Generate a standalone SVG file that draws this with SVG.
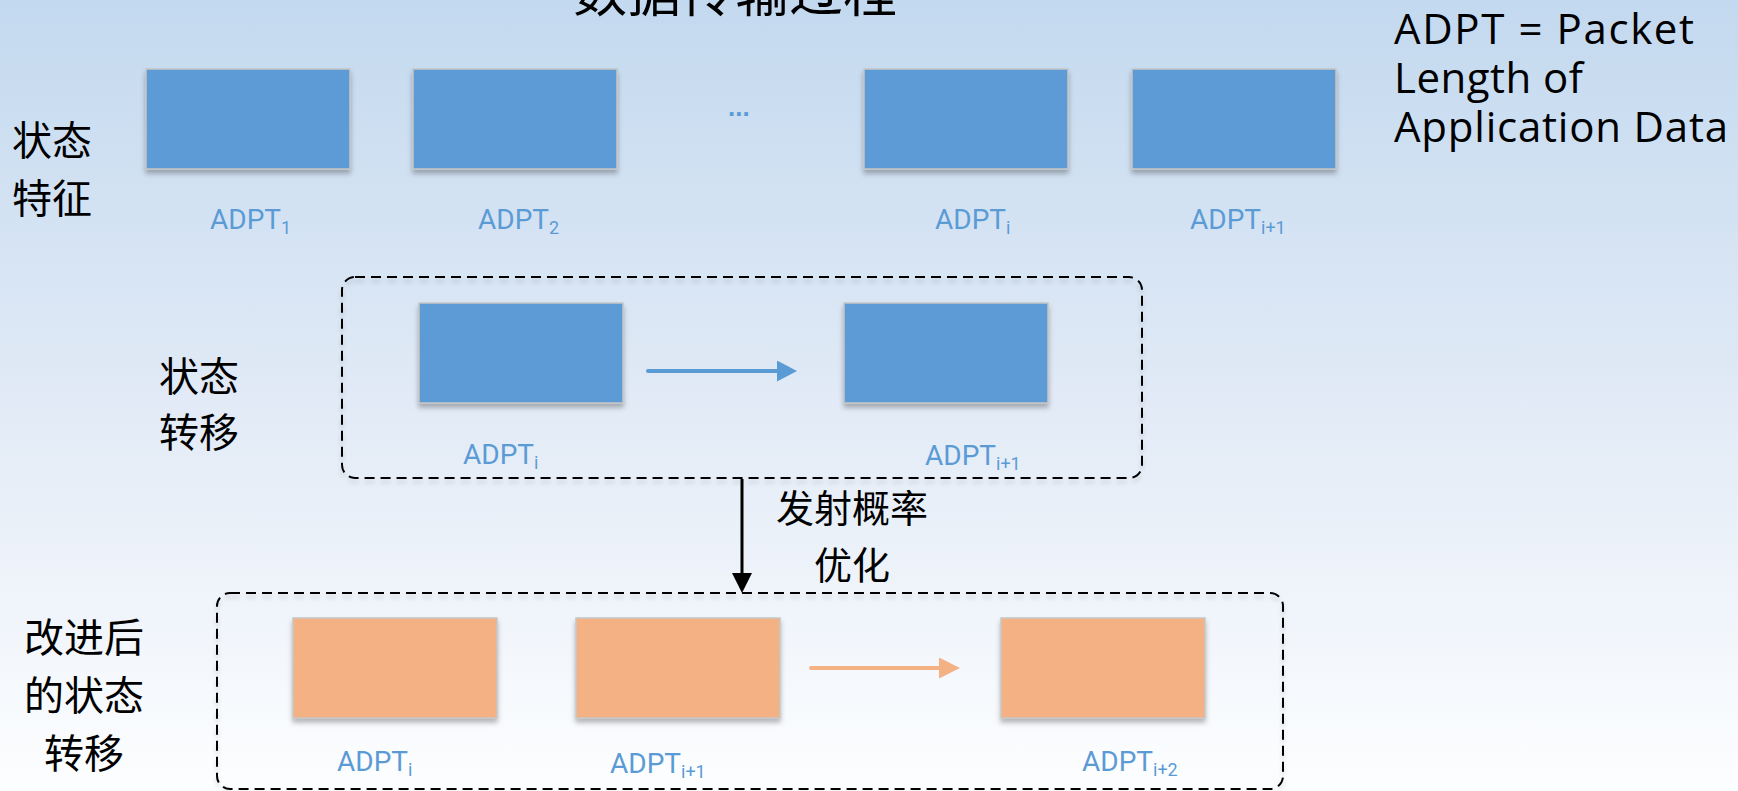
<svg xmlns="http://www.w3.org/2000/svg" width="1738" height="791" viewBox="0 0 1738 791">
<defs>
<linearGradient id="bg" x1="0" y1="0" x2="0" y2="1">
<stop offset="0" stop-color="#C3D9EF"/>
<stop offset="0.5" stop-color="#E1EAF6"/>
<stop offset="1" stop-color="#FDFEFF"/>
</linearGradient>
<filter id="sh" x="-10%" y="-10%" width="120%" height="135%">
<feDropShadow dx="0" dy="4" stdDeviation="2.5" flood-color="#000" flood-opacity="0.28"/>
</filter>
<filter id="shd" x="-5%" y="-5%" width="110%" height="115%">
<feDropShadow dx="0" dy="4" stdDeviation="2" flood-color="#000" flood-opacity="0.15"/>
</filter>
<marker id="mBlue" markerUnits="userSpaceOnUse" markerWidth="21" markerHeight="22" refX="0" refY="10.5" orient="auto">
<path d="M0,0 L20,10.5 L0,21 z" fill="#5B9BD5"/>
</marker>
<marker id="mOrange" markerUnits="userSpaceOnUse" markerWidth="22" markerHeight="22" refX="0" refY="10.5" orient="auto">
<path d="M0,0 L21,10.5 L0,21 z" fill="#F4B183"/>
</marker>
<marker id="mBlack" markerUnits="userSpaceOnUse" markerWidth="21" markerHeight="21" refX="0" refY="10" orient="auto">
<path d="M0,0 L20,10 L0,20 z" fill="#000"/>
</marker>
</defs>
<style>
.cjk{font-family:"Noto Sans CJK SC","Noto Sans",sans-serif;fill:#000;}
.blue{fill:#5B9BD5;stroke:#C6C6C6;stroke-width:1.5;filter:url(#sh);}
.orange{fill:#F4B183;stroke:#C6C6C6;stroke-width:1.5;filter:url(#sh);}
.lbl{font-family:Roboto,"Liberation Sans",sans-serif;font-size:28px;fill:#5B9BD5;}
.sub{font-size:18px;}
.group{fill:none;stroke:#000;stroke-width:2;stroke-dasharray:10 6;filter:url(#shd);}
.legend{font-family:"Open Sans","Noto Sans",sans-serif;font-size:42px;fill:#000;}
</style>
<rect x="0" y="0" width="1738" height="791" fill="url(#bg)"/>

<g id="title">
<text class="cjk" x="735" y="12" font-size="54" text-anchor="middle">数据传输过程</text>
</g>

<g id="legend">
<text class="legend" x="1394" y="44" textLength="300" lengthAdjust="spacing">ADPT = Packet</text>
<text class="legend" x="1394" y="93" textLength="189" lengthAdjust="spacing">Length of</text>
<text class="legend" x="1394" y="142" textLength="334" lengthAdjust="spacing">Application Data</text>
</g>

<g id="row-labels">
<text class="cjk" font-size="40" text-anchor="middle"><tspan x="52" y="155">状态</tspan><tspan x="52" y="213">特征</tspan></text>
<text class="cjk" font-size="40" text-anchor="middle"><tspan x="199" y="391">状态</tspan><tspan x="199" y="447">转移</tspan></text>
<text class="cjk" font-size="40" text-anchor="middle"><tspan x="84" y="652">改进后</tspan><tspan x="84" y="710">的状态</tspan><tspan x="84" y="768">转移</tspan></text>
</g>

<g id="top-1">
<rect class="blue" x="146" y="69" width="204" height="100"/>
<text class="lbl" x="210" y="229">ADPT<tspan class="sub" dy="5">1</tspan></text>
</g>
<g id="top-2">
<rect class="blue" x="413" y="69" width="204" height="100"/>
<text class="lbl" x="478" y="229">ADPT<tspan class="sub" dy="5">2</tspan></text>
</g>
<g id="top-ellipsis">
<text x="728" y="116" font-family="Liberation Sans, Arial, sans-serif" font-size="26" font-weight="bold" fill="#5B9BD5">...</text>
</g>
<g id="top-i">
<rect class="blue" x="864" y="69" width="204" height="100"/>
<text class="lbl" x="935" y="229">ADPT<tspan class="sub" dy="5">i</tspan></text>
</g>
<g id="top-i1">
<rect class="blue" x="1132" y="69" width="204" height="100"/>
<text class="lbl" x="1190" y="229">ADPT<tspan class="sub" dy="5">i+1</tspan></text>
</g>

<g id="transition-group">
<rect class="group" x="342" y="277" width="800" height="201" rx="13"/>
</g>
<g id="mid-i">
<rect class="blue" x="419" y="303" width="204" height="100"/>
<text class="lbl" x="463" y="464">ADPT<tspan class="sub" dy="5">i</tspan></text>
</g>
<g id="mid-i1">
<rect class="blue" x="844" y="303" width="204" height="100"/>
<text class="lbl" x="925" y="465">ADPT<tspan class="sub" dy="5">i+1</tspan></text>
</g>

<g id="improved-group">
<rect class="group" x="217" y="593" width="1066" height="196" rx="13"/>
</g>
<g id="bot-i">
<rect class="orange" x="293" y="618" width="204" height="100"/>
<text class="lbl" x="337" y="771">ADPT<tspan class="sub" dy="5">i</tspan></text>
</g>
<g id="bot-i1">
<rect class="orange" x="576" y="618" width="204" height="100"/>
<text class="lbl" x="610" y="773">ADPT<tspan class="sub" dy="5">i+1</tspan></text>
</g>
<g id="bot-i2">
<rect class="orange" x="1001" y="618" width="204" height="100"/>
<text class="lbl" x="1082" y="771">ADPT<tspan class="sub" dy="5">i+2</tspan></text>
</g>

<g id="connectors">
<line x1="648" y1="371" x2="777" y2="371" stroke="#5B9BD5" stroke-width="4" stroke-linecap="round" marker-end="url(#mBlue)"/>
<line x1="811" y1="668" x2="939" y2="668" stroke="#F4B183" stroke-width="4" stroke-linecap="round" marker-end="url(#mOrange)"/>
<line x1="742" y1="479" x2="742" y2="573" stroke="#000" stroke-width="3" marker-end="url(#mBlack)"/>
</g>

<g id="edge-label">
<text class="cjk" font-size="38" text-anchor="middle"><tspan x="852" y="522">发射概率</tspan><tspan x="852" y="579">优化</tspan></text>
</g>
</svg>
